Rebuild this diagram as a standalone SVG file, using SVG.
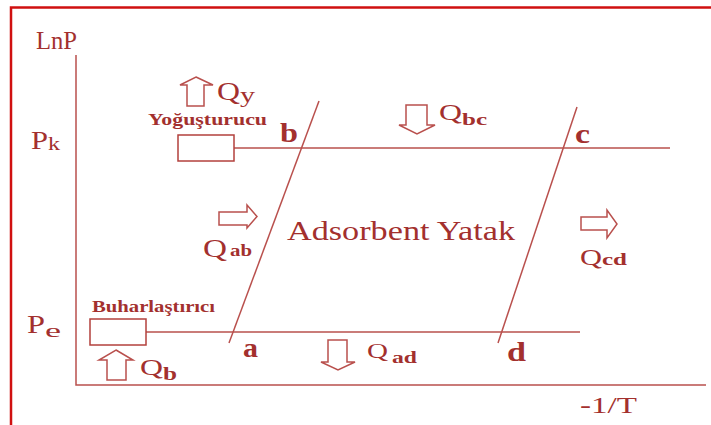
<svg xmlns="http://www.w3.org/2000/svg" width="711" height="425" viewBox="0 0 711 425">
<style>
.t{font-family:"Liberation Serif","DejaVu Serif",serif;fill:#a3302e}
.b{font-weight:bold}
.ln{stroke:#b9504d;stroke-width:1.5;fill:none}
.ar{stroke:#b9504d;stroke-width:1.5;fill:#fff;stroke-linejoin:miter}
.bx{stroke:#b3403d;stroke-width:1.5;fill:#fff}
</style>
<rect x="0" y="0" width="711" height="425" fill="#fff"/>
<path d="M11 425 V7.5 H720" stroke="#d01010" stroke-width="2.5" fill="none"/>
<g id="connectors">
<path class="ln" d="M76 55 V385 H706"/>
<line class="ln" x1="234" y1="148" x2="670" y2="148"/>
<line class="ln" x1="146" y1="332" x2="580" y2="332"/>
<line class="ln" x1="319" y1="101" x2="229" y2="343"/>
<line class="ln" x1="577" y1="107" x2="498" y2="343"/>
</g>
<g id="axis-labels">
<text class="t" x="36" y="49" font-size="26" textLength="41" lengthAdjust="spacingAndGlyphs">LnP</text>
<text class="t" x="31" y="149" font-size="26" textLength="17" lengthAdjust="spacingAndGlyphs">P</text><text class="t" x="48" y="150" font-size="19" textLength="12" lengthAdjust="spacingAndGlyphs">k</text>
<text class="t" x="27" y="333" font-size="26" textLength="18" lengthAdjust="spacingAndGlyphs">P</text><text class="t" x="45" y="337" font-size="19" textLength="16" lengthAdjust="spacingAndGlyphs">e</text>
<text class="t" x="580" y="413" font-size="24" textLength="57" lengthAdjust="spacingAndGlyphs">-1/T</text>
</g>
<g id="yogusturucu">
<rect class="bx" x="178" y="135" width="56" height="26"/>
<text class="t b" x="148" y="125" font-size="16" textLength="119" lengthAdjust="spacingAndGlyphs">Yoğuşturucu</text>
</g>
<g id="buharlastirici">
<rect class="bx" x="90" y="319" width="56" height="26"/>
<text class="t b" x="92" y="312" font-size="16" textLength="123" lengthAdjust="spacingAndGlyphs">Buharlaştırıcı</text>
</g>
<g id="adsorbent">
<text class="t" x="287" y="240" font-size="27" textLength="228" lengthAdjust="spacingAndGlyphs">Adsorbent Yatak</text>
</g>
<g id="points">
<text class="t b" x="280" y="142" font-size="27" textLength="18" lengthAdjust="spacingAndGlyphs">b</text>
<text class="t b" x="575" y="143" font-size="28" textLength="15" lengthAdjust="spacingAndGlyphs">c</text>
<text class="t b" x="243" y="357" font-size="28" textLength="15" lengthAdjust="spacingAndGlyphs">a</text>
<text class="t b" x="507" y="361" font-size="27" textLength="19" lengthAdjust="spacingAndGlyphs">d</text>
</g>
<g id="Qy">
<polygon class="ar" points="196,77 213,85 204,85 204,106 187,106 187,85 180,85"/>
<text class="t" x="217" y="100" font-size="25" textLength="23" lengthAdjust="spacingAndGlyphs">Q</text><text class="t" x="240" y="102" font-size="22" textLength="15" lengthAdjust="spacingAndGlyphs">y</text>
</g>
<g id="Qbc">
<polygon class="ar" points="406,105 427,105 427,125 435,125 417,134 399,125 406,125"/>
<text class="t" x="439" y="120" font-size="24" textLength="23" lengthAdjust="spacingAndGlyphs">Q</text><text class="t b" x="462" y="125" font-size="17" textLength="25" lengthAdjust="spacingAndGlyphs">bc</text>
</g>
<g id="Qab">
<polygon class="ar" points="219,212 247,212 247,205 257,216.5 247,228 247,225 219,225"/>
<text class="t" x="203" y="257" font-size="26" textLength="24" lengthAdjust="spacingAndGlyphs">Q</text><text class="t b" x="230" y="256" font-size="16" textLength="22" lengthAdjust="spacingAndGlyphs">ab</text>
</g>
<g id="Qcd">
<polygon class="ar" points="581,217 607,217 607,210 617,224 607,238 607,230 581,230"/>
<text class="t" x="580" y="265" font-size="24" textLength="22" lengthAdjust="spacingAndGlyphs">Q</text><text class="t b" x="602" y="265" font-size="16" textLength="25" lengthAdjust="spacingAndGlyphs">cd</text>
</g>
<g id="Qad">
<polygon class="ar" points="328,340 347,340 347,362 355,362 338,370 321,362 328,362"/>
<text class="t" x="367" y="358" font-size="22" textLength="21" lengthAdjust="spacingAndGlyphs">Q</text><text class="t b" x="392" y="363" font-size="16" textLength="25" lengthAdjust="spacingAndGlyphs">ad</text>
</g>
<g id="Qb">
<polygon class="ar" points="116,350 133,360 126,360 126,380 107,380 107,360 99,360"/>
<text class="t" x="140" y="375" font-size="24" textLength="23" lengthAdjust="spacingAndGlyphs">Q</text><text class="t b" x="163" y="380" font-size="18" textLength="14" lengthAdjust="spacingAndGlyphs">b</text>
</g>
</svg>
